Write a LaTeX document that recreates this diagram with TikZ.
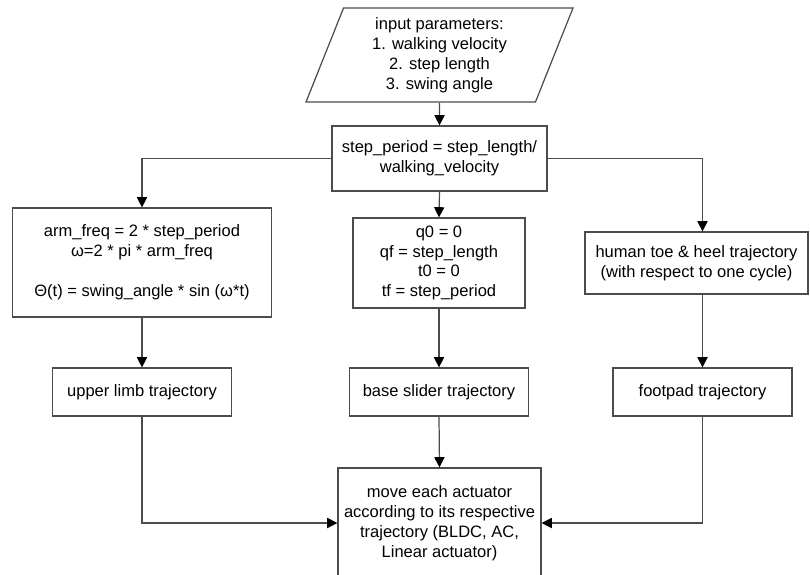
\documentclass[tikz,border=0pt]{standalone}
\usepackage{fontspec}
\setmainfont{Liberation Sans}
\usetikzlibrary{shapes.geometric}
\usetikzlibrary{arrows.meta}
\tikzset{>={Triangle[length=5.8pt,width=5.8pt,color=black]}}
\tikzset{block/.style={draw=black!70, line width=0.7pt, inner sep=0pt, align=center, font=\fontsize{9.4}{11.3}\selectfont},
         link/.style={black!70, line width=0.7pt}}

\begin{document}
\begin{tikzpicture}
                \useasboundingbox (0,0) rectangle (16.2,-11.48);

                % Draw the input parallelogram and the step period box
                \node[block, trapezium, trapezium left angle=63.4, trapezium right angle=116.6, trapezium stretches body,
                      minimum width=5.34cm, minimum height=1.88cm] (input) at (8.79,-1.10)
                      {input parameters:\\1. walking velocity\\2. step length\\3. swing angle};
                \node[block, minimum width=4.3cm, minimum height=1.3cm] (step) at (8.79,-3.17)
                      {step\_period = step\_length/\\walking\_velocity};

                % Draw the three middle boxes
                \node[block, minimum width=5.18cm, minimum height=2.18cm] (arm) at (2.84,-5.25)
                      {arm\_freq = 2 * step\_period\\ω=2 * pi * arm\_freq\\[11.3pt]Θ(t) = swing\_angle * sin (ω*t)};
                \node[block, minimum width=3.44cm, minimum height=1.8cm] (init) at (8.78,-5.26)
                      {q0 = 0\\qf = step\_length\\t0 = 0\\tf = step\_period};
                \node[block, minimum width=4.46cm, minimum height=1.24cm] (toe) at (13.93,-5.26)
                      {human toe \& heel trajectory\\(with respect to one cycle)};

                % Draw the trajectory boxes
                \node[block, minimum width=3.58cm, minimum height=0.96cm] (limb) at (2.84,-7.84) {upper limb trajectory};
                \node[block, minimum width=3.58cm, minimum height=0.96cm] (slider) at (8.78,-7.84) {base slider trajectory};
                \node[block, minimum width=3.58cm, minimum height=0.96cm] (foot) at (14.05,-7.84) {footpad trajectory};

                % Draw the actuator box
                \node[block, minimum width=4.06cm, minimum height=2.2cm] (act) at (8.79,-10.46)
                      {move each actuator\\according to its respective\\trajectory (BLDC, AC,\\Linear actuator)};

                % Draw the arrows
                \draw[link,->] (input.south) -- (step.north);
                \draw[link,->] (step.west) -| (arm.north);
                \draw[link,->] (step.south) -- (init.north);
                \draw[link,->] (step.east) -| (toe.north -| foot.north);
                \draw[link,->] (arm.south) -- (limb.north);
                \draw[link,->] (init.south) -- (slider.north);
                \draw[link,->] (toe.south -| foot.north) -- (foot.north);
                \draw[link,->] (slider.south) -- (act.north);
                \draw[link,->] (limb.south) |- (act.west);
                \draw[link,->] (foot.south) |- (act.east);
            \end{tikzpicture}
\end{document}
